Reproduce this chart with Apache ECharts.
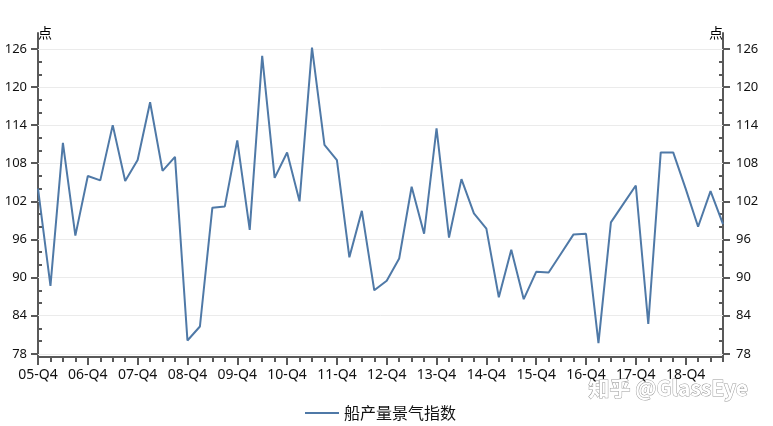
<!DOCTYPE html>
<html>
<head>
<meta charset="utf-8">
<script src="https://cdn.jsdelivr.net/npm/echarts@6/dist/echarts.min.js"></script>
<style>html,body{margin:0;padding:0;background:#fff;}#c{width:773px;height:426px;}</style>
</head>
<body>
<div id="c"></div>
<script>
const categories = [
  "05-Q4","06-Q1","06-Q2","06-Q3","06-Q4","07-Q1","07-Q2","07-Q3","07-Q4",
  "08-Q1","08-Q2","08-Q3","08-Q4","09-Q1","09-Q2","09-Q3","09-Q4",
  "10-Q1","10-Q2","10-Q3","10-Q4","11-Q1","11-Q2","11-Q3","11-Q4",
  "12-Q1","12-Q2","12-Q3","12-Q4","13-Q1","13-Q2","13-Q3","13-Q4",
  "14-Q1","14-Q2","14-Q3","14-Q4","15-Q1","15-Q2","15-Q3","15-Q4",
  "16-Q1","16-Q2","16-Q3","16-Q4","17-Q1","17-Q2","17-Q3","17-Q4",
  "18-Q1","18-Q2","18-Q3","18-Q4","19-Q1","19-Q2","19-Q3"
];
const seriesName = "船产量景气指数";
const values = [
  104.0, 88.7, 111.2, 96.6, 106.0, 105.3, 114.0, 105.2, 108.5,
  117.6, 106.8, 109.0, 80.1, 82.3, 101.0, 101.2, 111.6,
  97.5, 124.9, 105.7, 109.7, 102.0, 126.2, 110.9, 108.5,
  93.2, 100.5, 88.0, 89.5, 93.0, 104.3, 96.9, 113.5,
  96.3, 105.5, 100.1, 97.7, 86.9, 94.4, 86.6, 90.9,
  90.8, 93.8, 96.8, 96.9, 79.7, 98.7, 101.6, 104.5,
  82.7, 109.7, 109.7, 104.0, 98.0, 103.6, 98.4
];
const yMajorTicks = [78, 84, 90, 96, 102, 108, 114, 120, 126];
const yMinorTicks = [80, 82, 86, 88, 92, 94, 98, 100, 104, 106, 110, 112, 116, 118, 122, 124];
const yUnit = "点";
const yMin = 77.5, yMax = 128.5;

const FONT = "'Noto Sans', 'Noto Sans CJK SC', sans-serif";
const CJK_FONT = "'Noto Sans CJK SC', sans-serif";
const AXIS_COLOR = "#595959";
const LINE_COLOR = "#4f79a7";

function yAxisPair(pos) {
  const major = {
    type: 'value', position: pos, min: yMin, max: yMax,
    name: yUnit, nameLocation: 'end', nameGap: 0,
    nameTextStyle: { color: '#000', fontSize: 14, fontFamily: CJK_FONT,
      align: pos === 'left' ? 'left' : 'right', verticalAlign: 'middle' },
    axisLine: { show: true, lineStyle: { color: AXIS_COLOR, width: 2 } },
    axisTick: { show: true, inside: false, length: 7, customValues: yMajorTicks,
      lineStyle: { color: AXIS_COLOR, width: 2 } },
    axisLabel: { show: true, customValues: yMajorTicks, color: '#111', fontSize: 13,
      fontFamily: FONT, margin: pos === 'left' ? 11 : 13 },
    splitLine: { show: false }
  };
  const minor = {
    type: 'value', position: pos, min: yMin, max: yMax,
    axisLine: { show: false },
    axisTick: { show: true, inside: true, length: 4, customValues: yMinorTicks,
      lineStyle: { color: AXIS_COLOR, width: 2 } },
    axisLabel: { show: false },
    splitLine: { show: false }
  };
  return [major, minor];
}

const chart = echarts.init(document.getElementById('c'), null, { renderer: 'canvas' });
chart.setOption({
  backgroundColor: '#fff',
  animation: false,
  grid: { left: 38, right: 50, top: 33, bottom: 69, containLabel: false },
  legend: {
    data: [seriesName], left: 300, top: 400,
    icon: 'rect', itemWidth: 34, itemHeight: 2,
    textStyle: { color: '#111', fontSize: 16, fontFamily: CJK_FONT }
  },
  xAxis: [
    {
      type: 'category', data: categories, boundaryGap: false, position: 'bottom',
      axisLine: { show: true, lineStyle: { color: AXIS_COLOR, width: 2 } },
      axisTick: { show: true, interval: 3, length: 8, lineStyle: { color: AXIS_COLOR, width: 2 } },
      axisLabel: { interval: 3, color: '#111', fontSize: 14, fontFamily: FONT, margin: 11 },
      splitLine: { show: false }
    },
    {
      type: 'category', data: categories, boundaryGap: false, position: 'bottom',
      axisLine: { show: false },
      axisTick: { show: true, interval: 0, length: 5, lineStyle: { color: AXIS_COLOR, width: 2 } },
      axisLabel: { show: false },
      splitLine: { show: false }
    }
  ],
  yAxis: [...yAxisPair('left'), ...yAxisPair('right')],
  series: [{
    name: seriesName, type: 'line', data: values,
    xAxisIndex: 0, yAxisIndex: 0,
    showSymbol: false, symbol: 'none',
    lineStyle: { color: LINE_COLOR, width: 2 },
    itemStyle: { color: LINE_COLOR },
    markLine: {
      silent: true, symbol: 'none', label: { show: false },
      lineStyle: { color: '#ebebeb', width: 1, type: 'solid' },
      data: yMajorTicks.map(v => ({ yAxis: v })),
      z: 1
    },
    z: 3
  }],
  graphic: [{
    type: 'text', left: 588, top: 377, silent: true,
    style: { text: '知乎 @GlassEye', fill: '#ffffff', stroke: '#9a9a9a', lineWidth: 1,
      font: 'bold 21px ' + CJK_FONT }
  }]
});
</script>
</body>
</html>
